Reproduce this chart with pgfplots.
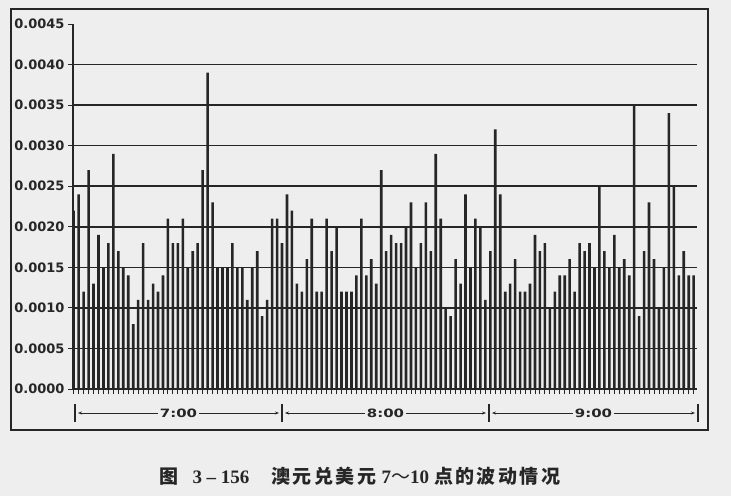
\documentclass[border=0pt]{standalone}
\usepackage{pgfplots}
\usepackage{pgfplotstable}
\pgfplotsset{compat=1.18}
\usepackage{fontspec}
\setmainfont{DejaVu Sans}
\newfontfamily\cjk{Noto Sans CJK SC}
\newfontfamily\serifnum{Liberation Serif}
\newfontfamily\hourfont{DejaVu Sans}[FakeStretch=1.3]
\usetikzlibrary{arrows.meta}
\definecolor{ink}{HTML}{262626}
\definecolor{paper}{HTML}{EEEEEE}
\newcommand\cs{\hspace{2.5pt}}

% one bar per sample, 42 per hour, 7:00-10:00
\pgfplotstableread{
i v
1 0.0022
2 0.0024
3 0.0012
4 0.0027
5 0.0013
6 0.0019
7 0.0015
8 0.0018
9 0.0029
10 0.0017
11 0.0015
12 0.0014
13 0.0008
14 0.0011
15 0.0018
16 0.0011
17 0.0013
18 0.0012
19 0.0014
20 0.0021
21 0.0018
22 0.0018
23 0.0021
24 0.0015
25 0.0017
26 0.0018
27 0.0027
28 0.0039
29 0.0023
30 0.0015
31 0.0015
32 0.0015
33 0.0018
34 0.0015
35 0.0015
36 0.0011
37 0.0015
38 0.0017
39 0.0009
40 0.0011
41 0.0021
42 0.0021
43 0.0018
44 0.0024
45 0.0022
46 0.0013
47 0.0012
48 0.0016
49 0.0021
50 0.0012
51 0.0012
52 0.0021
53 0.0017
54 0.0020
55 0.0012
56 0.0012
57 0.0012
58 0.0014
59 0.0021
60 0.0014
61 0.0016
62 0.0013
63 0.0027
64 0.0017
65 0.0019
66 0.0018
67 0.0018
68 0.0020
69 0.0023
70 0.0015
71 0.0018
72 0.0023
73 0.0017
74 0.0029
75 0.0021
76 0.0010
77 0.0009
78 0.0016
79 0.0013
80 0.0024
81 0.0015
82 0.0021
83 0.0020
84 0.0011
85 0.0017
86 0.0032
87 0.0024
88 0.0012
89 0.0013
90 0.0016
91 0.0012
92 0.0012
93 0.0013
94 0.0019
95 0.0017
96 0.0018
97 0.0010
98 0.0012
99 0.0014
100 0.0014
101 0.0016
102 0.0012
103 0.0018
104 0.0017
105 0.0018
106 0.0015
107 0.0025
108 0.0017
109 0.0015
110 0.0019
111 0.0015
112 0.0016
113 0.0014
114 0.0035
115 0.0009
116 0.0017
117 0.0023
118 0.0016
119 0.0010
120 0.0015
121 0.0034
122 0.0025
123 0.0014
124 0.0017
125 0.0014
126 0.0014
}\fxdata

\begin{document}
\begin{tikzpicture}[x=1pt,y=1pt]
\fill[paper] (0,0) rectangle (731,496);
\useasboundingbox (0,0) rectangle (731,496);
\draw[ink,line width=1.5pt] (11,66) rectangle (708,487);

\begin{axis}[
    at={(73pt,107pt)}, anchor=south west,
    scale only axis, width=624pt, height=365pt,
    xmin=0.859, xmax=126.67, ymin=0, ymax=0.0045,
    axis lines=left,
    axis line style={-, ink, line width=1.4pt},
    ybar, bar width=2.6pt,
    ytick={0,0.0005,0.001,0.0015,0.002,0.0025,0.003,0.0035,0.004},
    extra y ticks={0.0045},
    extra y tick style={grid=none},
    ymajorgrids, grid style={ink, line width=1.5pt},
    scaled y ticks=false,
    y tick label style={font=\fontsize{13}{13}\selectfont\bfseries, text=ink},
    xtick={1,...,126}, xticklabels={},
    tick style={ink, line width=0.9pt},
    major tick length=5pt,
    tick align=outside,
    /pgf/number format/fixed,
    /pgf/number format/fixed zerofill,
    /pgf/number format/precision=4,
    /pgf/number format/assume math mode=true,
]
\addplot[fill=ink, draw=none] table[x=i, y=v] {\fxdata};
\end{axis}

% hour brackets
\foreach \a/\b/\t in {75/282/7:00, 282/489/8:00, 489/698/9:00} {
  \draw[ink, line width=0.9pt, {Stealth[length=4pt,width=3pt]}-{Stealth[length=4pt,width=3pt]}]
    (\a+3,83) -- (\b-3,83);
  \node[fill=paper, inner xsep=1.5pt, inner ysep=0pt, text=ink,
        font=\hourfont\bfseries\fontsize{11.5}{11.5}\selectfont] at ({(\a+\b)/2},83) {\t};
  \draw[ink, line width=1.2pt] (\a,74) -- (\a,92);
}
\draw[ink, line width=1.2pt] (698,74) -- (698,92);

% caption
\node[text=ink, font=\fontsize{19}{19}\selectfont] at (360,20)
  {{\cjk\bfseries 图}\hspace{14pt}{\serifnum\bfseries 3 – 156}\hspace{22pt}{\cjk\bfseries 澳\cs 元\cs 兑\cs 美\cs 元}\hspace{5pt}{\serifnum\bfseries 7}{\cjk ～}{\serifnum\bfseries 10}\hspace{5pt}{\cjk\bfseries 点\cs 的\cs 波\cs 动\cs 情\cs 况}};
\end{tikzpicture}
\end{document}
